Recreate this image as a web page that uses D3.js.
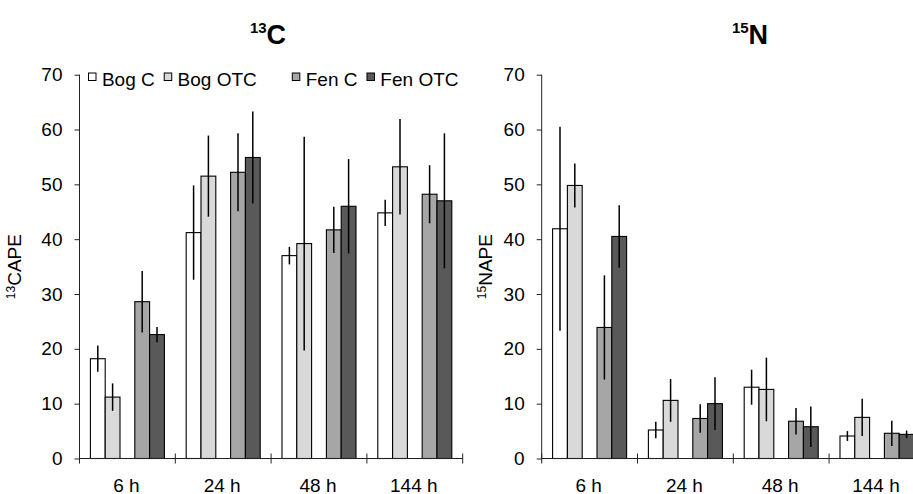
<!DOCTYPE html>
<html>
<head>
<meta charset="utf-8">
<script src="https://cdn.jsdelivr.net/npm/d3@7"></script>
<style>
  html, body { margin: 0; padding: 0; background: #fff; }
  svg { display: block; font-family: "Liberation Sans", Arial, sans-serif; }
</style>
</head>
<body>
<svg id="chart" width="913" height="494"></svg>
<script>
// ---------- data ----------
const categories = ["6 h", "24 h", "48 h", "144 h"];
const seriesNames = ["Bog C", "Bog OTC", "Fen C", "Fen OTC"];
const yTicks = [0, 10, 20, 30, 40, 50, 60, 70];

// 13C APE (mean, error)
const cBogC      = [18.2, 41.2, 37.0, 44.8];
const cBogCErr   = [2.4, 8.6, 1.6, 2.4];
const cBogOTC    = [11.2, 51.5, 39.2, 53.2];
const cBogOTCErr = [2.5, 7.4, 19.5, 8.7];
const cFenC      = [28.6, 52.2, 41.7, 48.2];
const cFenCErr   = [5.6, 7.1, 4.2, 5.3];
const cFenOTC    = [22.6, 54.9, 46.0, 47.0];
const cFenOTCErr = [1.4, 8.4, 8.6, 12.3];

// 15N APE (mean, error)
const nBogC      = [41.9, 5.2, 13.0, 4.1];
const nBogCErr   = [18.6, 1.5, 3.2, 0.9];
const nBogOTC    = [49.8, 10.6, 12.6, 7.5];
const nBogOTCErr = [4.0, 3.9, 5.8, 3.4];
const nFenC      = [23.9, 7.3, 6.8, 4.6];
const nFenCErr   = [9.5, 2.6, 2.4, 2.3];
const nFenOTC    = [40.5, 10.0, 5.8, 4.4];
const nFenOTCErr = [5.7, 4.8, 3.7, 0.7];

// ---------- styling ----------
const fills = {"Bog C": "#ffffff", "Bog OTC": "#d9d9d9", "Fen C": "#a6a6a6", "Fen OTC": "#595959"};
const slots = ["Bog C", "Bog OTC", "", "Fen C", "Fen OTC"];

const svg = d3.select("#chart");
const FS = 19;

function buildRows(vals) {
  return categories.map((c, i) => ({
    cat: c,
    bars: seriesNames.map((s, k) => ({series: s, value: vals[k][0][i], err: vals[k][1][i]}))
  }));
}

function drawPanel(opt) {
  const {left, right, top, bottom, rows, isotope, elem, titleX, yTitleX, legend} = opt;
  const g = svg.append("g");

  const x0 = d3.scaleBand().domain(categories).range([left, right]).padding(0);
  const x1 = d3.scaleBand().domain(slots).range([0, x0.bandwidth()]).paddingInner(0).paddingOuter(0.736);
  const y = d3.scaleLinear().domain([0, 70]).range([bottom, top]);

  // bars
  const groups = g.selectAll("g.cat").data(rows).enter().append("g")
    .attr("transform", d => `translate(${x0(d.cat)},0)`);
  groups.selectAll("rect").data(d => d.bars).enter().append("rect")
    .attr("x", d => x1(d.series))
    .attr("y", d => y(d.value))
    .attr("width", x1.bandwidth())
    .attr("height", d => y(0) - y(d.value))
    .attr("fill", d => fills[d.series])
    .attr("stroke", "#000")
    .attr("stroke-width", 1.1);
  groups.selectAll("line.err").data(d => d.bars).enter().append("line")
    .attr("class", "err")
    .attr("x1", d => x1(d.series) + x1.bandwidth() / 2)
    .attr("x2", d => x1(d.series) + x1.bandwidth() / 2)
    .attr("y1", d => y(d.value + d.err))
    .attr("y2", d => y(Math.max(0, d.value - d.err)))
    .attr("stroke", "#000")
    .attr("stroke-width", 1.5);

  // y axis
  const yAxis = d3.axisLeft(y).tickValues(yTicks).tickSize(5).tickPadding(12).tickFormat(d3.format("d"));
  const ya = g.append("g").attr("transform", `translate(${left},0)`).call(yAxis);
  ya.select(".domain").attr("d", `M0,${top}V${bottom}`).attr("stroke", "#222");
  ya.selectAll(".tick line").attr("stroke", "#222");
  ya.selectAll(".tick text").attr("font-size", FS).attr("font-family", "Liberation Sans, Arial, sans-serif").attr("fill", "#000");

  // x axis line + crossing ticks at category boundaries
  g.append("line").attr("x1", left).attr("x2", right).attr("y1", bottom).attr("y2", bottom)
    .attr("stroke", "#222").attr("stroke-width", 1);
  const bounds = categories.map(c => x0(c)).concat([x0(categories[categories.length - 1]) + x0.bandwidth()]);
  g.selectAll("line.xt").data(bounds).enter().append("line")
    .attr("x1", d => d).attr("x2", d => d)
    .attr("y1", bottom - 5).attr("y2", bottom + 5)
    .attr("stroke", "#222");
  g.selectAll("text.xl").data(categories).enter().append("text")
    .attr("x", d => x0(d) + x0.bandwidth() / 2 - 1)
    .attr("y", bottom + 33)
    .attr("text-anchor", "middle")
    .attr("font-size", FS)
    .text(d => d);

  // title
  const t = g.append("text").attr("x", titleX).attr("y", 44).attr("text-anchor", "middle")
    .attr("font-weight", "bold");
  t.append("tspan").attr("font-size", 15).attr("dy", -11).text(isotope);
  t.append("tspan").attr("font-size", 27).attr("dy", 11).text(elem);

  // y title
  const yt = g.append("text")
    .attr("transform", `translate(${yTitleX},${(top + bottom) / 2}) rotate(-90)`)
    .attr("text-anchor", "middle");
  yt.append("tspan").attr("font-size", 12).attr("dy", -6).text(isotope);
  yt.append("tspan").attr("font-size", FS).attr("dy", 6).text(elem + "APE");

  // legend
  if (legend) {
    const lg = g.append("g");
    let lx = left + 9;
    const ly = 86;
    slots.forEach(s => {
      if (s === "") { lx += 26; return; }
      lg.append("rect").attr("x", lx).attr("y", ly - 13).attr("width", 7.5).attr("height", 7.5)
        .attr("fill", fills[s]).attr("stroke", "#000").attr("stroke-width", 1);
      const tx = lg.append("text").attr("x", lx + 13.4).attr("y", ly).attr("font-size", FS).text(s);
      lx += 13.4 + tx.node().getComputedTextLength() + 9.5;
    });
  }
}

drawPanel({
  left: 79.5, right: 462.7, top: 74.7, bottom: 458.5,
  rows: buildRows([[cBogC, cBogCErr], [cBogOTC, cBogOTCErr], [cFenC, cFenCErr], [cFenOTC, cFenOTCErr]]),
  isotope: "13", elem: "C", titleX: 268, yTitleX: 21, legend: true
});
drawPanel({
  left: 541.7, right: 924.9, top: 74.7, bottom: 458.5,
  rows: buildRows([[nBogC, nBogCErr], [nBogOTC, nBogOTCErr], [nFenC, nFenCErr], [nFenOTC, nFenOTCErr]]),
  isotope: "15", elem: "N", titleX: 750, yTitleX: 492, legend: false
});
</script>
</body>
</html>
